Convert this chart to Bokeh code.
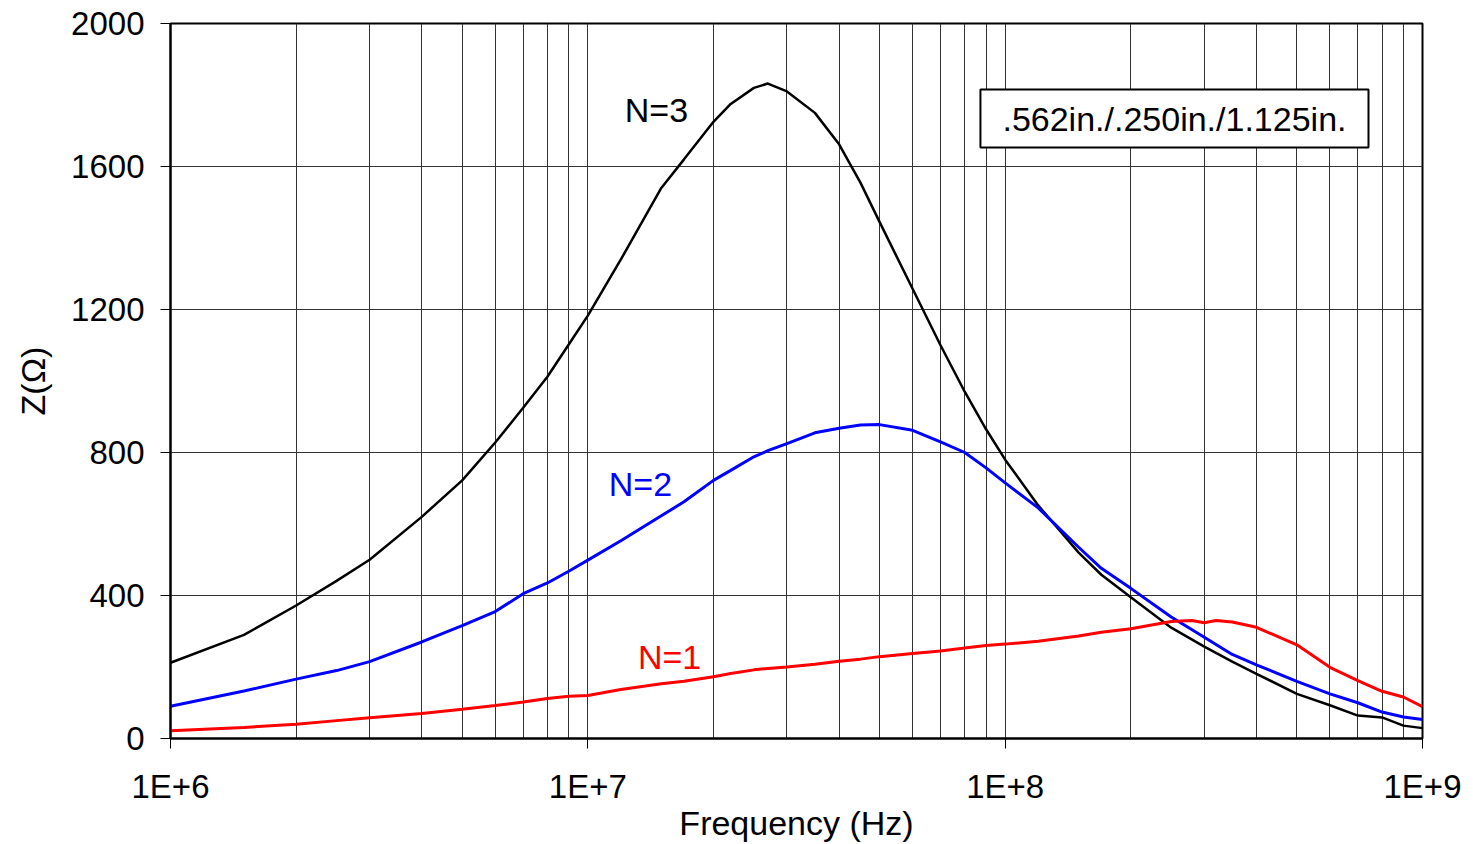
from bokeh.plotting import figure
from bokeh.models import FixedTicker, Label, Range1d, CustomJSTickFormatter
from bokeh.embed import file_html
from bokeh.resources import INLINE

# ---- data (frequency in MHz, impedance in ohms) ----
freq_n3 = [1, 1.5, 2, 2.5, 3, 4, 5, 6, 7, 8, 9, 10, 12, 15, 17, 20, 22, 25, 27, 30,
           35, 40, 45, 50, 60, 70, 80, 90, 100, 120, 150, 170, 200, 250, 300, 350,
           400, 500, 600, 700, 800, 900, 1000]
z_n3 = [212, 290, 372, 441, 500, 620, 722, 828, 925, 1012, 1102, 1183, 1340, 1540, 1620,
        1725, 1775, 1820, 1832, 1810, 1750, 1662, 1555, 1445, 1258, 1100, 970, 865, 780,
        652, 520, 458, 395, 310, 257, 215, 181, 125, 93, 64, 59, 36, 29]

freq_n2 = [1, 1.5, 2, 2.5, 3, 4, 5, 6, 7, 8, 9, 10, 12, 15, 17, 20, 22, 25, 27, 30,
           35, 40, 45, 50, 60, 70, 80, 90, 100, 120, 150, 170, 200, 250, 300, 350,
           400, 500, 600, 700, 800, 900, 1000]
z_n2 = [90, 133, 166, 190, 215, 270, 316, 355, 405, 435, 468, 499, 553, 623, 662,
        722, 750, 788, 805, 825, 855, 868, 877, 878, 862, 830, 800, 757, 715,
        645, 535, 476, 420, 340, 283, 235, 206, 160, 125, 100, 74, 60, 53]

freq_n1 = [1, 1.5, 2, 2.5, 3, 4, 5, 6, 7, 8, 9, 10, 12, 15, 17, 20, 22, 25, 27, 30,
           35, 40, 45, 50, 60, 70, 80, 90, 100, 120, 150, 170, 200, 250, 280, 300,
           320, 350, 400, 500, 600, 700, 800, 900, 1000]
z_n1 = [22, 31, 40, 50, 58, 70, 82, 92, 102, 112, 118, 120, 137, 153, 160, 173, 182,
        192, 196, 200, 208, 216, 222, 229, 238, 245, 253, 260, 264, 272, 287, 297,
        307, 327, 330, 324, 330, 326, 311, 262, 199, 162, 132, 116, 89]

y_ticks = [0, 400, 800, 1200, 1600, 2000]
x_major = [1e6, 1e7, 1e8, 1e9]
x_minor = [k * 10 ** e for e in (6, 7, 8) for k in range(2, 10)]

FONT = "Liberation Sans"

p = figure(width=1470, height=844, x_axis_type="log",
           x_range=Range1d(1e6, 1e9), y_range=Range1d(0, 2000),
           output_backend="svg", toolbar_location=None,
           min_border_left=170, min_border_right=48,
           min_border_top=23, min_border_bottom=106)

p.background_fill_color = "white"
p.border_fill_color = "white"
p.outline_line_color = "black"
p.outline_line_width = 2

# axes
p.xaxis.ticker = FixedTicker(ticks=x_major, minor_ticks=x_minor)
p.yaxis.ticker = FixedTicker(ticks=y_ticks)
p.xaxis.formatter = CustomJSTickFormatter(code="return '1E+' + Math.round(Math.log10(tick));")

for ax in (p.xaxis, p.yaxis):
    ax.axis_line_width = 2
    ax.axis_line_color = "black"
    ax.major_tick_out = 10
    ax.major_tick_in = 0
    ax.minor_tick_out = 0
    ax.minor_tick_in = 0
    ax.major_tick_line_color = "black"
    ax.major_label_text_font = FONT
    ax.major_label_text_font_size = "33px"
    ax.major_label_text_color = "black"
    ax.axis_label_text_font = FONT
    ax.axis_label_text_font_size = "34px"
    ax.axis_label_text_font_style = "normal"
    ax.axis_label_text_color = "black"

p.xaxis.axis_label = "Frequency (Hz)"
p.yaxis.axis_label = "Z(\u03a9)"
p.xaxis.major_label_standoff = 19
p.yaxis.major_label_standoff = 16
p.xaxis.axis_label_standoff = -4
p.yaxis.axis_label_standoff = 16

# grid
p.xgrid.grid_line_color = "#333333"
p.xgrid.grid_line_width = 1
p.xgrid.minor_grid_line_color = "#333333"
p.xgrid.minor_grid_line_width = 1
p.ygrid.grid_line_color = "#333333"
p.ygrid.grid_line_width = 1

# series
f3 = [f * 1e6 for f in freq_n3]
f2 = [f * 1e6 for f in freq_n2]
f1 = [f * 1e6 for f in freq_n1]
p.line(f3, z_n3, line_color="black", line_width=2.5)
p.line(f2, z_n2, line_color="#0000ff", line_width=3)
p.line(f1, z_n1, line_color="#ff0000", line_width=3)

# series labels
for txt, fx, zy, col in [("N=3", 1.46e7, 1757, "black"),
                         ("N=2", 1.337e7, 712, "#0000ff"),
                         ("N=1", 1.57e7, 227, "#ff0000")]:
    p.add_layout(Label(x=fx, y=zy, text=txt, text_color=col, text_font=FONT,
                       text_font_size="34px", text_align="center",
                       text_baseline="middle"))

# boxed note
p.add_layout(Label(x=2.545e8, y=1734, text=".562in./.250in./1.125in.",
                   text_font=FONT, text_font_size="34px", text_color="black",
                   text_align="center", text_baseline="middle",
                   background_fill_color="white", border_line_color="black",
                   border_line_width=2, padding=(22, 10)))

open("out.html", "w").write(file_html(p, INLINE))
